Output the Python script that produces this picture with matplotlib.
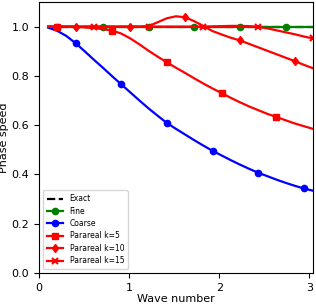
import numpy as np
import matplotlib
matplotlib.use("Agg")
import matplotlib.pyplot as plt

# wave numbers (30 samples up to ~3.04)
wave = [3.04 * i / 30 for i in range(1, 31)]

exact = [1.0] * 30
fine = [1.0] * 30
coarse = [0.996, 0.983, 0.962, 0.933, 0.900, 0.866, 0.833, 0.799, 0.766, 0.733,
          0.700, 0.668, 0.638, 0.609, 0.585, 0.562, 0.539, 0.517, 0.496, 0.477,
          0.458, 0.440, 0.423, 0.407, 0.393, 0.379, 0.366, 0.354, 0.343, 0.334]
para_k5 = [1.0, 1.0, 1.0, 0.999, 0.997, 0.994, 0.990, 0.984, 0.972, 0.952,
           0.928, 0.902, 0.878, 0.855, 0.833, 0.812, 0.790, 0.769, 0.749, 0.730,
           0.711, 0.693, 0.676, 0.661, 0.646, 0.633, 0.620, 0.607, 0.596, 0.585]
para_k10 = [1.0, 1.0, 1.0, 1.0, 1.0, 1.0, 1.0, 1.0, 1.0, 1.0,
            1.0, 1.002, 1.018, 1.034, 1.042, 1.038, 1.022, 1.002, 0.982, 0.968,
            0.955, 0.944, 0.930, 0.916, 0.902, 0.888, 0.874, 0.860, 0.845, 0.831]
para_k15 = [1.0] * 18 + [1.001, 1.002, 1.003, 1.003, 1.002, 0.999, 0.993,
                         0.985, 0.977, 0.969, 0.960, 0.952]

fig = plt.figure(figsize=(3.16, 3.04), dpi=100)
ax = fig.add_axes([39 / 316, 31 / 304, 274 / 316, 271 / 304])

lw = 1.6
ms = 4.5
ax.plot(wave, exact, 'k--', lw=lw, label='Exact')
ax.plot(wave, fine, '-o', color='green', lw=lw, ms=ms, markevery=(1, 5), label='Fine')
ax.plot(wave, coarse, '-o', color='blue', lw=lw, ms=ms, markevery=(3, 5), label='Coarse')
ax.plot(wave, para_k5, '-s', color='red', lw=lw, ms=ms, markevery=(1, 6), label='Parareal k=5')
ax.plot(wave, para_k10, '-d', color='red', lw=lw, ms=ms, markevery=(3, 6), label='Parareal k=10')
ax.plot(wave, para_k15, '-x', color='red', lw=lw, ms=ms, mew=1.5, markevery=(5, 6), label='Parareal k=15')

ax.set_xlim(0, wave[-1])
ax.set_ylim(0, 1.1)
ax.set_xticks([0, 1, 2, 3])
ax.set_yticks([0.0, 0.2, 0.4, 0.6, 0.8, 1.0])
ax.tick_params(labelsize=8)
ax.set_xlabel('Wave number', fontsize=8, labelpad=1)
ax.set_ylabel('Phase speed', fontsize=8, labelpad=2)
ax.legend(loc='lower left', fontsize=5.5, handlelength=2.2, borderpad=0.5, labelspacing=0.45)

fig.savefig('out.png', dpi=100)
